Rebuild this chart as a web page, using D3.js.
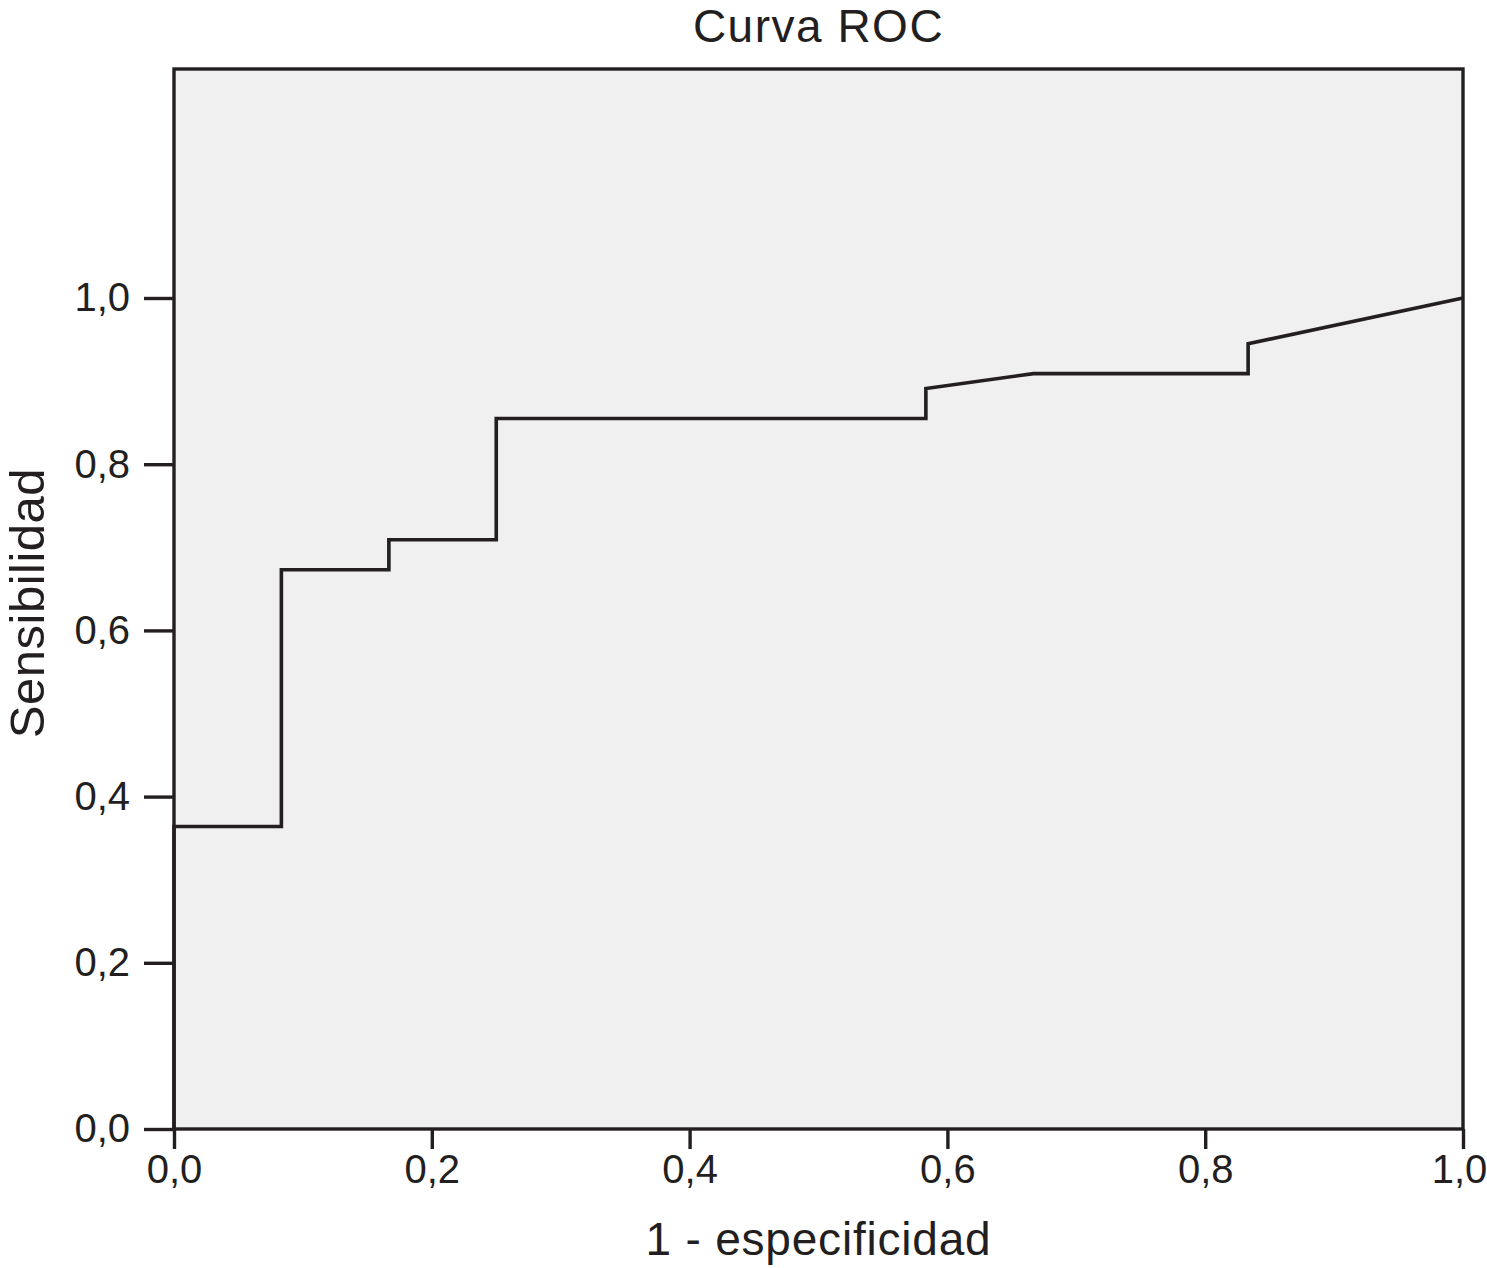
<!DOCTYPE html>
<html>
<head>
<meta charset="utf-8">
<script src="https://cdn.jsdelivr.net/npm/d3@7"></script>
<style>
  html, body { margin: 0; padding: 0; background: #ffffff; }
  svg { display: block; }
  text { font-family: "Liberation Sans", Arial, Helvetica, sans-serif; fill: #231f20; }
</style>
</head>
<body>
<svg id="chart" width="1487" height="1268"></svg>
<script>
// ROC curve points (1 - specificity, sensitivity)
const fpr  = [0, 0, 0.0833, 0.0833, 0.1667, 0.1667, 0.25, 0.25, 0.5833, 0.5833, 0.6667, 0.8333, 0.8333, 1.0];
const sens = [0, 0.364, 0.364, 0.673, 0.673, 0.709, 0.709, 0.855, 0.855, 0.891, 0.909, 0.909, 0.945, 1.0];
const xTicks = [0, 0.2, 0.4, 0.6, 0.8, 1.0];
const yTicks = [0, 0.2, 0.4, 0.6, 0.8, 1.0];
const title = "Curva ROC";
const xLabel = "1 - especificidad";
const yLabel = "Sensibilidad";

(function () {
const svg = d3.select("#chart");
const pL = 174, pR = 1463, pT = 69, pB = 1129;
const ink = "#231f20";

const x = d3.scaleLinear().domain([0, 1]).range([pL, pR]);
const y = d3.scaleLinear().domain([0, 1]).range([pB, 298]);

const fmt = d => d3.format(".1f")(d).replace(".", ",");

// plot background
svg.append("rect")
  .attr("x", pL).attr("y", pT)
  .attr("width", pR - pL).attr("height", pB - pT)
  .attr("fill", "#f0f0f0");

// curve
const pts = fpr.map((v, i) => [v, sens[i]]);
svg.append("path")
  .datum(pts)
  .attr("fill", "none")
  .attr("stroke", ink)
  .attr("stroke-width", 3.6)
  .attr("stroke-linejoin", "miter")
  .attr("d", d3.line().x(d => x(d[0])).y(d => y(d[1])));

// frame
svg.append("rect")
  .attr("x", pL).attr("y", pT)
  .attr("width", pR - pL).attr("height", pB - pT)
  .attr("fill", "none")
  .attr("stroke", ink)
  .attr("stroke-width", 3.4);

// axes
const xAxis = d3.axisBottom(x).tickValues(xTicks).tickFormat(fmt).tickSize(20).tickSizeOuter(0).tickPadding(6);
const gx = svg.append("g").attr("transform", `translate(0,${pB})`).call(xAxis);
gx.select(".domain").remove();
gx.selectAll("line").attr("stroke", ink).attr("stroke-width", 3.4);
gx.selectAll("text").attr("font-size", 40).attr("fill", ink)
  .attr("font-family", "'Liberation Sans', Arial, sans-serif")
  .attr("dx", d => d === 1 ? -4 : 0);

const yAxis = d3.axisLeft(y).tickValues(yTicks).tickFormat(fmt).tickSize(30).tickSizeOuter(0).tickPadding(14);
const gy = svg.append("g").attr("transform", `translate(${pL},0)`).call(yAxis);
gy.select(".domain").remove();
gy.selectAll("line").attr("stroke", ink).attr("stroke-width", 3.4);
gy.selectAll("text").attr("font-size", 40).attr("fill", ink)
  .attr("font-family", "'Liberation Sans', Arial, sans-serif");

// title
svg.append("text")
  .attr("x", (pL + pR) / 2).attr("y", 42)
  .attr("text-anchor", "middle")
  .attr("font-size", 46)
  .attr("letter-spacing", 1.5)
  .text(title);

// x label
svg.append("text")
  .attr("x", (pL + pR) / 2).attr("y", 1255)
  .attr("text-anchor", "middle")
  .attr("font-size", 46)
  .attr("letter-spacing", 0.8)
  .text(xLabel);

// y label
svg.append("text")
  .attr("transform", `translate(44,603) rotate(-90)`)
  .attr("text-anchor", "middle")
  .attr("font-size", 49)
  .attr("letter-spacing", 0.5)
  .text(yLabel);
})();
</script>
</body>
</html>
